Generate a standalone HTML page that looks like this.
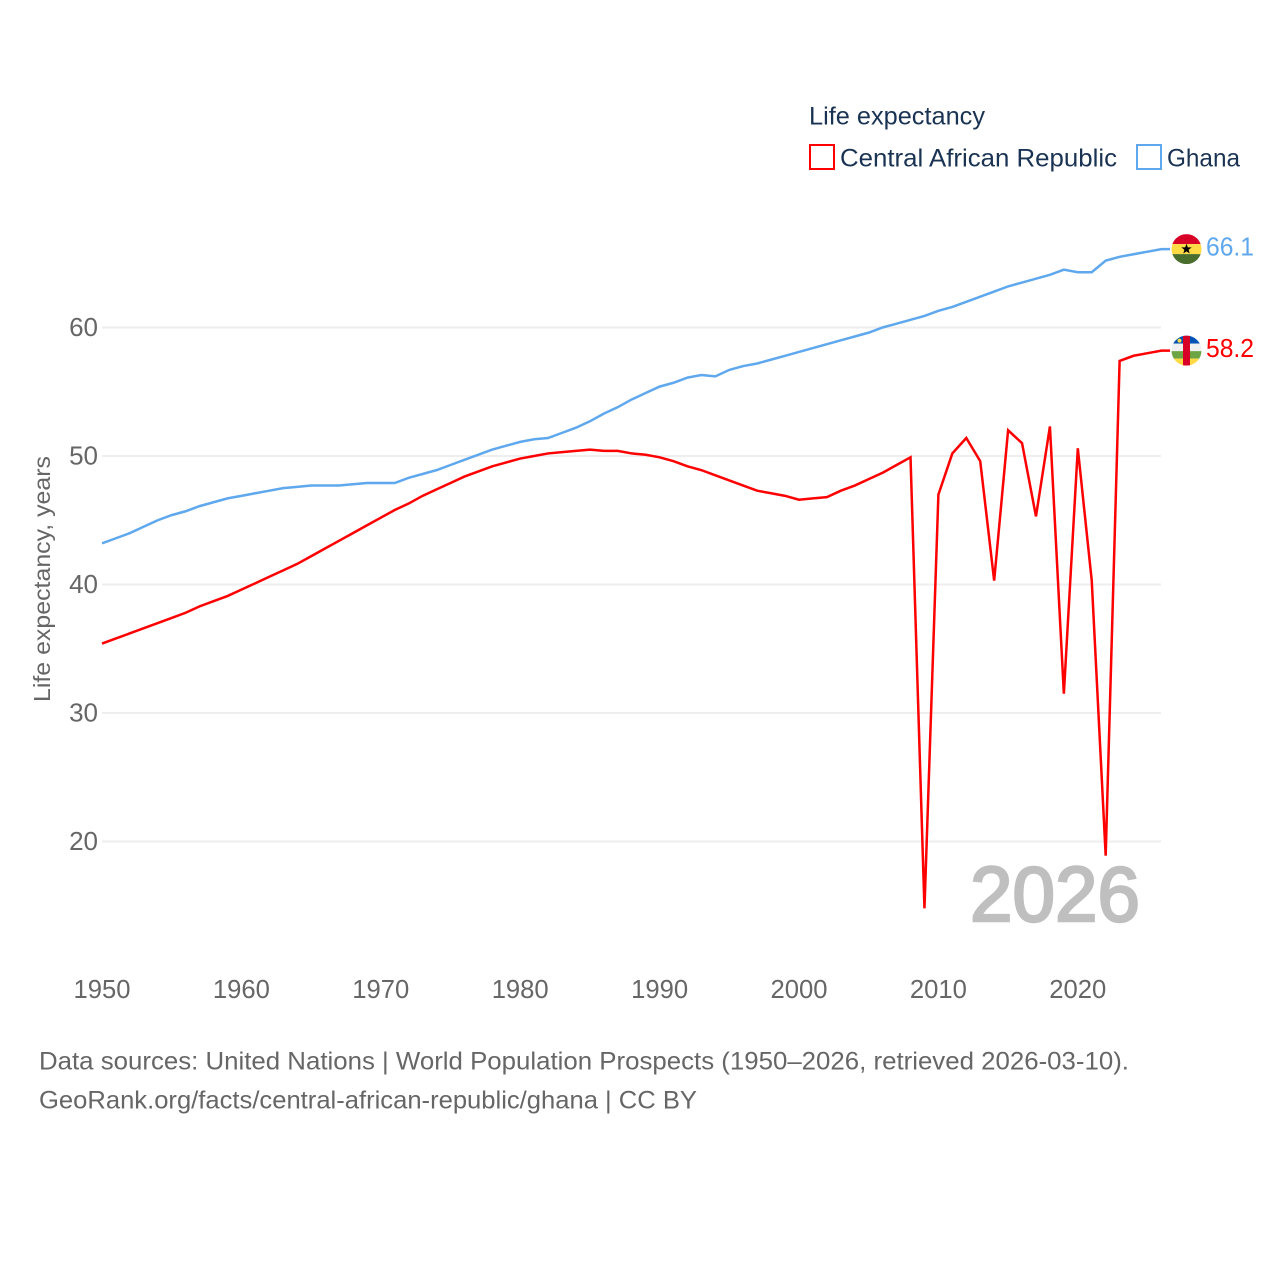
<!DOCTYPE html>
<html lang="en">
<head>
<meta charset="utf-8">
<title>Life expectancy: Central African Republic and Ghana</title>
<style>
html,body{margin:0;padding:0;background:#fff;width:1280px;height:1280px;overflow:hidden}
svg{display:block;font-family:"Liberation Sans",sans-serif}
</style>
</head>
<body>
<svg id="chart" xmlns="http://www.w3.org/2000/svg" width="1280" height="1280" viewBox="0 0 1280 1280">
  <rect width="1280" height="1280" fill="#fff"/>
  <g id="grid"></g>
  <g id="yticks"></g>
  <g id="xticks"></g>
  <text transform="translate(50,702) rotate(-90)" font-size="23.5" fill="#666" textLength="246" lengthAdjust="spacingAndGlyphs">Life expectancy, years</text>
  <text x="970" y="921" font-size="78" font-weight="400" fill="#bfbfbf" stroke="#bfbfbf" stroke-width="2.5" textLength="170" lengthAdjust="spacingAndGlyphs">2026</text>
  <g id="series"></g>
  <g>
    <text x="809" y="124.5" font-size="25" fill="#1a3353" textLength="176" lengthAdjust="spacingAndGlyphs">Life expectancy</text>
    <g>
      <rect x="810" y="145" width="24" height="24" fill="#fff" stroke="#ff0000" stroke-width="2"/>
      <text x="840" y="166.5" font-size="25" fill="#1a3353" textLength="277" lengthAdjust="spacingAndGlyphs">Central African Republic</text>
    </g>
    <g>
      <rect x="1137" y="145" width="24" height="24" fill="#fff" stroke="#5fa8ee" stroke-width="2"/>
      <text x="1167" y="166.5" font-size="25" fill="#1a3353" textLength="73" lengthAdjust="spacingAndGlyphs">Ghana</text>
    </g>
  </g>
  <defs>
    <clipPath id="flag-clip-ghana"><circle id="clip-ghana" r="15"/></clipPath>
    <clipPath id="flag-clip-car"><circle id="clip-car" r="15"/></clipPath>
  </defs>
  <g id="flag-ghana"></g>
  <g id="flag-car"></g>
  <text id="value-ghana" x="1206" font-size="26" fill="#5fa8ee" textLength="48" lengthAdjust="spacingAndGlyphs"></text>
  <text id="value-car" x="1206" font-size="26" fill="#ff0000" textLength="48" lengthAdjust="spacingAndGlyphs"></text>
  <g>
    <text x="39" y="1069.5" font-size="25" fill="#666" textLength="1090" lengthAdjust="spacingAndGlyphs">Data sources: United Nations | World Population Prospects (1950–2026, retrieved 2026-03-10).</text>
    <text x="39" y="1108.5" font-size="25" fill="#666" textLength="658" lengthAdjust="spacingAndGlyphs">GeoRank.org/facts/central-african-republic/ghana | CC BY</text>
  </g>
</svg>
<script>
const startYear = 1950;
const xTickYears = [1950, 1960, 1970, 1980, 1990, 2000, 2010, 2020];
const yTickValues = [20, 30, 40, 50, 60];
const carValues = [35.4,35.8,36.2,36.6,37.0,37.4,37.8,38.3,38.7,39.1,39.6,40.1,40.6,41.1,41.6,42.2,42.8,43.4,44.0,44.6,45.2,45.8,46.3,46.9,47.4,47.9,48.4,48.8,49.2,49.5,49.8,50.0,50.2,50.3,50.4,50.5,50.4,50.4,50.2,50.1,49.9,49.6,49.2,48.9,48.5,48.1,47.7,47.3,47.1,46.9,46.6,46.7,46.8,47.3,47.7,48.2,48.7,49.3,49.9,14.8,47.0,50.2,51.4,49.6,40.3,52.0,51.0,45.3,52.3,31.5,50.6,40.3,18.9,57.4,57.8,58.0,58.2];
const ghanaValues = [43.2,43.6,44.0,44.5,45.0,45.4,45.7,46.1,46.4,46.7,46.9,47.1,47.3,47.5,47.6,47.7,47.7,47.7,47.8,47.9,47.9,47.9,48.3,48.6,48.9,49.3,49.7,50.1,50.5,50.8,51.1,51.3,51.4,51.8,52.2,52.7,53.3,53.8,54.4,54.9,55.4,55.7,56.1,56.3,56.2,56.7,57.0,57.2,57.5,57.8,58.1,58.4,58.7,59.0,59.3,59.6,60.0,60.3,60.6,60.9,61.3,61.6,62.0,62.4,62.8,63.2,63.5,63.8,64.1,64.5,64.3,64.3,65.2,65.5,65.7,65.9,66.1];

const NS = 'http://www.w3.org/2000/svg';
const xScale = function (year) { return 102 + (year - 1950) * 13.94; };
const yScale = function (value) { return 327.5 + (60 - value) * 12.85; };

function make(tag, attrs, parent, text) {
  const el = document.createElementNS(NS, tag);
  for (const k in attrs) el.setAttribute(k, attrs[k]);
  if (text !== undefined) el.textContent = text;
  parent.appendChild(el);
  return el;
}

const gridGroup = document.getElementById('grid');
const yGroup = document.getElementById('yticks');
yTickValues.forEach(function (v) {
  const line = make('line', {x1: 102, x2: 1161, y1: yScale(v), y2: yScale(v), stroke: '#eeeeee', 'stroke-width': 2}, gridGroup);
  
  
  const label = make('text', {x: 98, y: yScale(v) + 8.5, 'text-anchor': 'end', 'font-size': 26, fill: '#666'}, yGroup, String(v));
  
  
});

const xGroup = document.getElementById('xticks');
xTickYears.forEach(function (y) {
  const label = make('text', {x: xScale(y), y: 998, 'text-anchor': 'middle', 'font-size': 26, fill: '#666', textLength: 57, lengthAdjust: 'spacingAndGlyphs'}, xGroup, String(y));
  
  
});

function pathFor(values) {
  const last = values[values.length - 1];
  const pts = values.map(function (v, i) { return xScale(startYear + i).toFixed(2) + ',' + yScale(v).toFixed(2); });
  pts.push('1170,' + yScale(last).toFixed(2));
  return 'M' + pts.join('L');
}

const seriesGroup = document.getElementById('series');
const carLine = make('path', {d: pathFor(carValues), fill: 'none', stroke: '#ff0000', 'stroke-width': 2.5, 'stroke-linejoin': 'miter'}, seriesGroup);


const ghanaLine = make('path', {d: pathFor(ghanaValues), fill: 'none', stroke: '#5fa8ee', 'stroke-width': 2.5, 'stroke-linejoin': 'miter'}, seriesGroup);



const ghanaEnd = ghanaValues[ghanaValues.length - 1];
const carEnd = carValues[carValues.length - 1];
const gy = yScale(ghanaEnd);
const cy = yScale(carEnd);
const fx = 1186.5;

document.getElementById('clip-ghana').setAttribute('cx', fx);
document.getElementById('clip-ghana').setAttribute('cy', gy);
document.getElementById('clip-car').setAttribute('cx', fx);
document.getElementById('clip-car').setAttribute('cy', cy);

const gFlag = document.getElementById('flag-ghana');
gFlag.setAttribute('clip-path', 'url(#flag-clip-ghana)');
make('rect', {x: fx - 15, y: gy - 15, width: 30, height: 10, fill: '#d80027'}, gFlag);
make('rect', {x: fx - 15, y: gy - 5, width: 30, height: 10, fill: '#ffda44'}, gFlag);
make('rect', {x: fx - 15, y: gy + 5, width: 30, height: 10, fill: '#496e2d'}, gFlag);
const star = [];
for (let i = 0; i < 10; i++) {
  const r = i % 2 ? 2.2 : 5.5;
  const a = -Math.PI / 2 + i * Math.PI / 5;
  star.push((fx + r * Math.cos(a)).toFixed(2) + ',' + (gy + r * Math.sin(a)).toFixed(2));
}
make('polygon', {points: star.join(' '), fill: '#000'}, gFlag);

const cFlag = document.getElementById('flag-car');
cFlag.setAttribute('clip-path', 'url(#flag-clip-car)');
make('rect', {x: fx - 15, y: cy - 15, width: 30, height: 8, fill: '#0052b4'}, cFlag);
make('rect', {x: fx - 15, y: cy - 7, width: 30, height: 7.5, fill: '#f0f0f0'}, cFlag);
make('rect', {x: fx - 15, y: cy + 0.5, width: 30, height: 7.5, fill: '#6da544'}, cFlag);
make('rect', {x: fx - 15, y: cy + 8, width: 30, height: 7, fill: '#ffda44'}, cFlag);
make('rect', {x: fx - 3.5, y: cy - 15, width: 7, height: 30, fill: '#d80027'}, cFlag);
make('circle', {cx: fx - 7, cy: cy - 10, r: 2, fill: '#ffda44'}, cFlag);

const gv = document.getElementById('value-ghana');
gv.setAttribute('y', gy + 6.5);
gv.textContent = ghanaEnd.toFixed(1);
const cv = document.getElementById('value-car');
cv.setAttribute('y', cy + 6.5);
cv.textContent = carEnd.toFixed(1);
</script>
</body>
</html>
